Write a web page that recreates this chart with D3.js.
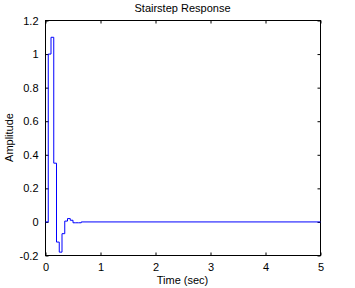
<!DOCTYPE html>
<html>
<head>
<meta charset="utf-8">
<script src="https://cdn.jsdelivr.net/npm/d3@7"></script>
<style>
  body { margin: 0; background: #fff; }
  text { font-family: "Liberation Sans", Arial, sans-serif; font-size: 11px; fill: #000; }
</style>
</head>
<body>
<div id="main"></div>
<script>
// sample times (sec) and sampled amplitude of the stairstep response
const times = [0, 0.05, 0.1, 0.15, 0.2, 0.25, 0.3, 0.35, 0.4, 0.45, 0.5, 0.55, 0.6, 0.65, 5];
const amps = [0, 1, 1.1, 0.35, -0.12, -0.18, -0.07, 0.005, 0.02, 0.01, -0.005, -0.005, -0.005, 0, 0];
const xTicks = [0, 1, 2, 3, 4, 5];
const yTicks = [-0.2, 0, 0.2, 0.4, 0.6, 0.8, 1, 1.2];

const svgWidth = 355;
const svgHeight = 288;
const margin = { t: 20, r: 35, b: 33, l: 45 };
const w = svgWidth - margin.l - margin.r;
const h = svgHeight - margin.t - margin.b;

const svg = d3.select('#main').append('svg')
  .attr('width', svgWidth)
  .attr('height', svgHeight);

const x = d3.scaleLinear().domain([0, 5]).range([0, w]);
const y = d3.scaleLinear().domain([-0.2, 1.2]).range([h, 0]);

const plot = svg.append('g')
  .attr('transform', `translate(${margin.l + 0.5}, ${margin.t + 0.5})`);

// matlab style labels: 1, 0.8, 0, -0.2
const fmt = d => (Math.abs(d) < 1e-9 ? '0' : String(+d.toFixed(1)));

// bottom / top / left / right axes with inward ticks
const axes = [
  d3.axisBottom(x).tickValues(xTicks).tickSizeInner(-3).tickSizeOuter(0).tickPadding(8).tickFormat(fmt),
  d3.axisTop(x).tickValues(xTicks).tickSizeInner(-3).tickSizeOuter(0).tickFormat(''),
  d3.axisLeft(y).tickValues(yTicks).tickSizeInner(-3).tickSizeOuter(0).tickPadding(7).tickFormat(fmt),
  d3.axisRight(y).tickValues(yTicks).tickSizeInner(-3).tickSizeOuter(0).tickFormat('')
];
const shifts = [[0, h], [0, 0], [0, 0], [w, 0]];
axes.forEach((a, i) => {
  const g = plot.append('g')
    .attr('transform', `translate(${shifts[i]})`)
    .call(a);
  g.select('.domain').remove();
  g.selectAll('line').attr('stroke', '#000');
  g.selectAll('text').attr('font-family', null).attr('font-size', null);
});

plot.append('rect')
  .attr('width', w)
  .attr('height', h)
  .attr('fill', 'none')
  .attr('stroke', '#000');

const pts = times.map((t, i) => [t, amps[i]]);
const line = d3.line()
  .x(d => x(d[0]))
  .y(d => y(d[1]))
  .curve(d3.curveStepAfter);

plot.append('path')
  .datum(pts)
  .attr('fill', 'none')
  .attr('stroke', '#0000ff')
  .attr('stroke-width', 1)
  .attr('d', line);

// titles
svg.append('text')
  .attr('x', margin.l + w / 2)
  .attr('y', 12)
  .attr('text-anchor', 'middle')
  .text('Stairstep Response');

svg.append('text')
  .attr('x', margin.l + w / 2)
  .attr('y', 284)
  .attr('text-anchor', 'middle')
  .text('Time (sec)');

svg.append('text')
  .attr('transform', `translate(13, ${margin.t + h / 2}) rotate(-90)`)
  .attr('text-anchor', 'middle')
  .text('Amplitude');
</script>
</body>
</html>
